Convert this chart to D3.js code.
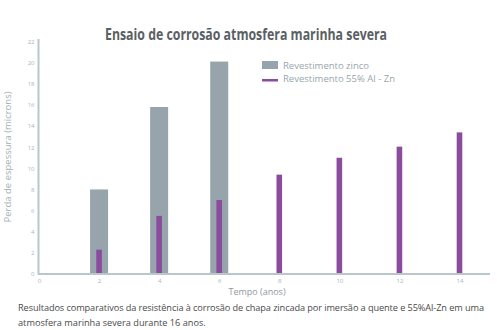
<!DOCTYPE html>
<html><head><meta charset="utf-8">
<script src="https://cdn.jsdelivr.net/npm/d3@7"></script>
<style>body{margin:0;background:#fff}svg{display:block}</style>
</head><body>
<script>
const xTicks = [0, 2, 4, 6, 8, 10, 12, 14];
const yTicks = [0, 2, 4, 6, 8, 10, 12, 14, 16, 18, 20, 22];
const zincYears = [2, 4, 6];
const zincValues = [8.0, 15.8, 20.1];
const alznYears = [2, 4, 6, 8, 10, 12, 14];
const alznValues = [2.3, 5.5, 7.0, 9.4, 11.0, 12.05, 13.4];
const seriesNames = ["Revestimento zinco", "Revestimento 55% Al - Zn"];
const title = "Ensaio de corrosão atmosfera marinha severa";
const xLabel = "Tempo (anos)";
const yLabel = "Perda de espessura (microns)";
const caption = ["Resultados comparativos da resistência à corrosão de chapa zincada por imersão a quente e 55%Al-Zn em uma",
                 "atmosfera marinha severa durante 16 anos."];

const W = 497, H = 330;
const svg = d3.select("body").append("svg").attr("width", W).attr("height", H);
const font = "'Open Sans', sans-serif";
const x = d3.scaleLinear().domain([0, 14]).range([39, 459.5]);
const y = d3.scaleLinear().domain([0, 22]).range([274, 41.5]);
const axisCol = "#b9c6ca";

// bars zinc
svg.selectAll("rect.zinc").data(zincYears).join("rect")
  .attr("x", d => x(d) - 9).attr("width", 18)
  .attr("y", (d, i) => y(zincValues[i])).attr("height", (d, i) => y(0) - y(zincValues[i]))
  .attr("fill", "#97a4ab");
// bars al-zn
svg.selectAll("rect.alzn").data(alznYears).join("rect")
  .attr("x", d => x(d) - 2.8).attr("width", 5.6)
  .attr("y", (d, i) => y(alznValues[i])).attr("height", (d, i) => y(0) - y(alznValues[i]))
  .attr("fill", "#8b4c9e");

// axes
const gx = svg.append("g").attr("transform", `translate(0,${y(0)})`)
  .call(d3.axisBottom(x).tickValues(xTicks).tickSize(0).tickPadding(5));
gx.select(".domain").remove();
svg.append("line").attr("x1", 38).attr("x2", 490).attr("y1", y(0)).attr("y2", y(0))
  .attr("stroke", axisCol).attr("stroke-width", 2);
const gy = svg.append("g").attr("transform", `translate(38.5,0)`)
  .call(d3.axisLeft(y).tickValues(yTicks).tickSize(0).tickPadding(4));
gy.select(".domain").remove();
svg.append("line").attr("x1", 38.5).attr("x2", 38.5).attr("y1", 39).attr("y2", 275)
  .attr("stroke", axisCol).attr("stroke-width", 2);
svg.selectAll(".tick text").attr("font-family", font).attr("font-size", 6).attr("fill", "#a9b4b8");

// title
svg.append("text").attr("x", 246).attr("y", 40).attr("text-anchor", "middle")
  .attr("font-family", font).attr("font-weight", "bold").attr("font-size", 15.5)
  .attr("fill", "#5a5f63").attr("textLength", 282).attr("lengthAdjust", "spacingAndGlyphs").text(title);

// legend
svg.append("rect").attr("x", 262).attr("y", 61).attr("width", 16).attr("height", 8).attr("fill", "#97a4ab");
svg.append("rect").attr("x", 262).attr("y", 79).attr("width", 16).attr("height", 2.5).attr("fill", "#8b4c9e");
svg.selectAll("text.leg").data(seriesNames).join("text")
  .attr("x", 283).attr("y", (d, i) => 68.5 + i * 13)
  .attr("font-family", font).attr("font-size", 9.5).attr("fill", "#98a6ab").text(d => d);

// axis labels
svg.append("text").attr("x", 257).attr("y", 295).attr("text-anchor", "middle")
  .attr("font-family", font).attr("font-size", 9).attr("fill", "#8e9a9f").text(xLabel);
svg.append("text").attr("transform", "translate(11,157) rotate(-90)").attr("text-anchor", "middle")
  .attr("font-family", font).attr("font-size", 9.5).attr("fill", "#a4b0b4").text(yLabel);

// caption
svg.append("text").attr("x", 18).attr("y", 311).attr("font-family", font).attr("font-size", 9.2)
  .attr("fill", "#4a4a4a").attr("textLength", 466).attr("lengthAdjust", "spacing").text(caption[0]);
svg.append("text").attr("x", 18).attr("y", 326).attr("font-family", font).attr("font-size", 9.2)
  .attr("fill", "#4a4a4a").text(caption[1]);
</script>
</body></html>
